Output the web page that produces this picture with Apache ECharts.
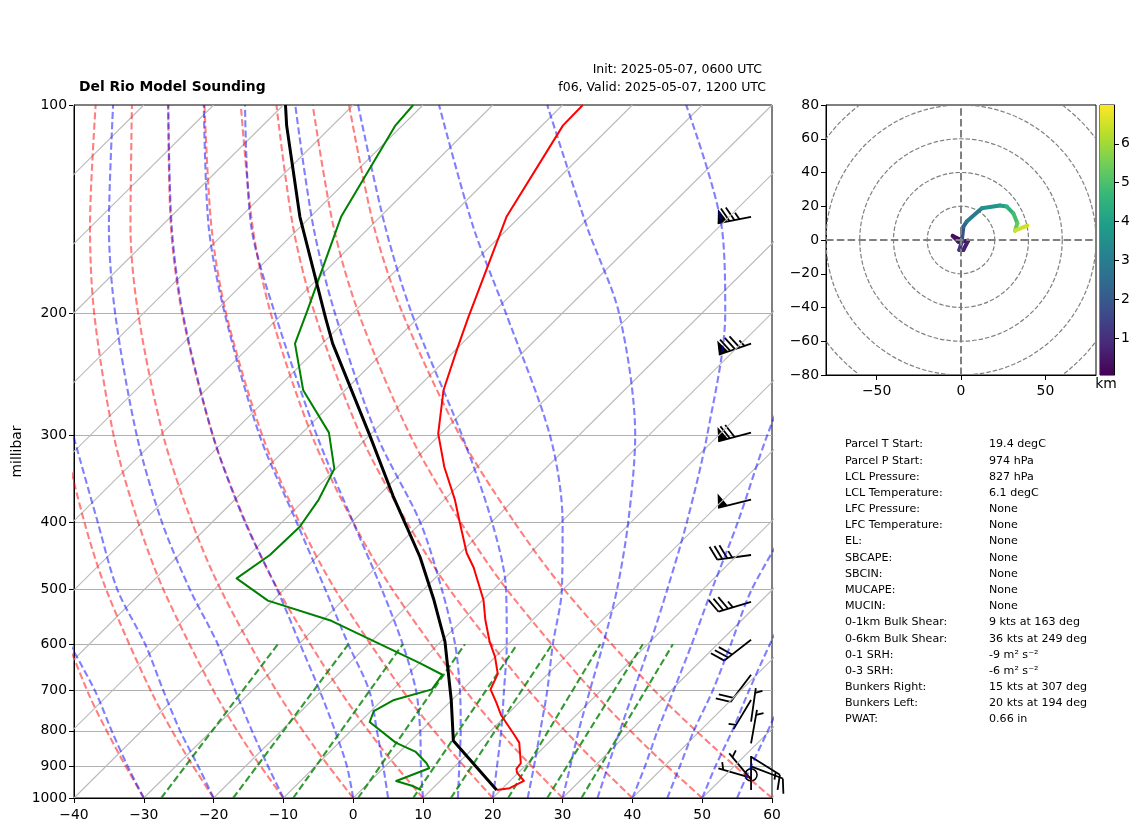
<!DOCTYPE html>
<html lang="en">
<head>
  <meta charset="UTF-8" />
  <title>Del Rio Model Sounding</title>
  <script src="https://cdn.jsdelivr.net/npm/echarts@6/dist/echarts.min.js"></script>
  <style>
    html, body { margin: 0; padding: 0; background: #fff; }
  </style>
</head>
<body>
  <div id="main" style="width:1142px; height:832px;"></div>
  <script type="text/javascript">

    // sounding profiles, pressure in hPa, temperature in degC
    const tempPressure = [974, 968, 945, 919, 908, 891, 832, 811, 759, 729, 697, 662, 625, 595, 553, 518, 465, 443, 401, 371, 333, 298, 258, 225, 203, 145, 107, 100];
    const tempValues = [19.4, 21.0, 22.0, 19.8, 19.2, 19.0, 15.8, 14.0, 9.2, 6.8, 4.0, 2.8, -0.1, -3.0, -6.8, -9.9, -16.0, -19.1, -24.4, -28.5, -34.7, -40.4, -45.9, -49.9, -52.8, -61.9, -67.0, -67.1];
    const dewPressure = [974, 961, 945, 906, 891, 857, 832, 777, 749, 722, 697, 664, 639, 555, 519, 482, 446, 406, 371, 335, 297, 258, 221, 198, 145, 107, 100];
    const dewValues = [8.6, 6.8, 3.7, 6.6, 5.5, 2.2, -1.9, -8.6, -9.6, -8.3, -4.4, -5.0, -9.9, -28.7, -40.7, -48.4, -47.0, -46.8, -48.0, -50.2, -56.2, -66.0, -73.9, -76.9, -85.6, -91.0, -91.4];
    const parcelPressure = [974, 827, 722, 595, 518, 449, 367, 300, 221, 203, 145, 107, 100];
    const parcelValues = [19.4, 6.1, -0.1, -9.4, -17.0, -25.2, -37.8, -49.9, -68.5, -73.2, -91.5, -106.6, -109.7];

    // wind barbs
    const windPressure = [145, 221, 297, 371, 446, 521, 591, 664, 722, 776, 834, 872, 900, 926, 935, 940, 974];
    const windDirection = [259, 251, 255, 256, 262, 253, 232, 217, 211, 8, 10, 122, 111, 0, 286, 320, 0];
    const windSpeed = [75, 85, 70, 50, 35, 35, 30, 20, 5, 5, 5, 15, 10, 0, 5, 5, 2];

    // axis ticks
    const pressureTicks = [100, 200, 300, 400, 500, 600, 700, 800, 900, 1000];
    const isotherms = [-140, -130, -120, -110, -100, -90, -80, -70, -60, -50, -40, -30, -20, -10, 0, 10, 20, 30, 40, 50, 60];

    // dry adiabats: temperature at each level
    const dryLevels = [1000, 850, 700, 500, 400, 300, 200, 150, 100];
    const dryAdiabats = [
      [-30, -41.0, -53.6, -73.7, -86.0, -100.8, -119.6, -131.7, -147.2],
      [-20, -31.5, -44.5, -65.5, -78.3, -93.7, -113.3, -125.9, -142.0],
      [-10, -22.0, -35.5, -57.3, -70.6, -86.6, -107.0, -120.1, -136.9],
      [0, -12.4, -26.5, -49.1, -62.9, -79.5, -100.7, -114.3, -131.7],
      [10, -2.9, -17.4, -40.9, -55.2, -72.4, -94.4, -108.5, -126.5],
      [20, 6.7, -8.4, -32.7, -47.5, -65.3, -88.1, -102.7, -121.3],
      [30, 16.2, 0.6, -24.5, -39.8, -58.2, -81.7, -96.8, -116.1],
      [40, 25.8, 9.7, -16.3, -32.1, -51.2, -75.4, -91.0, -111.0],
      [50, 35.3, 18.7, -8.1, -24.4, -44.1, -69.1, -85.2, -105.8],
      [60, 44.9, 27.7, 0.1, -16.7, -37.0, -62.8, -79.4, -100.6]
    ];

    // moist adiabats: position read on the bottom axis at each level
    const moistLevels = [1000, 900, 800, 700, 600, 500, 400, 300, 200, 150, 100];
    const moistAdiabats = [
      [-30, -32.3, -34.6, -37.0, -40.6],
      [-20, -22.2, -24.8, -27.2, -29.8, -33.8, -36.6, -40.1],
      [-10, -12.2, -14.5, -16.9, -19.4, -23.4, -27.4, -31, -34.1, -35, -34.4],
      [0, -0.9, -2.6, -4.8, -7.6, -10.9, -15.5, -20.1, -24.4, -26, -26.5],
      [5, 4.3, 3.4, 2.3, -0.7, -4, -8.1, -13.4, -18.4, -20.7, -21.4],
      [10, 9.7, 9.6, 9, 7.1, 4.1, 0, -5.2, -11.2, -14.6, -15.5],
      [15, 15.2, 15.4, 15.3, 14.6, 12.7, 9.6, 3.4, -2.6, -5.7, -8.3],
      [20, 20.6, 21.2, 21.6, 22, 21.9, 19.9, 15.6, 8.4, 4.6, 0.7],
      [25, 25.9, 26.8, 27.8, 28.6, 29.9, 30, 28.2, 21.9, 17.2, 12.3],
      [30, 31.1, 32.3, 33.9, 35.8, 37.8, 39.4, 40.4, 38.1, 33.5, 27.8],
      [35, 36.5, 38.2, 40.2, 42.5, 45, 47.8, 50.7, 53.3, 52.8, 47.7],
      [40, 41.8, 43.6, 45.9, 48.5, 51.4, 55.1, 59.3, 66.2],
      [45, 46.8, 48.8, 51.5, 54.1, 57.1, 62.6],
      [50, 51.9, 54.3, 56.7, 59.7, 63.6],
      [55, 57, 59.4, 62]
    ];

    // mixing ratio lines: position on the bottom axis at 1000 and 600 hPa
    const mixingLevels = [1000, 600];
    const mixingLines = [
      [-27.5, -10.8], [-17.2, -0.7], [-8.6, 7.1], [0.7, 16], [8.6, 23.5],
      [14, 28.5], [22.2, 35.4], [27.8, 41.5], [32.7, 45.8]
    ];

    // hodograph
    const hodoU = [0, -4.9, -1.6, 4.3, 1.4, -1, 0.4, 1.4, 3.4, 12.3, 23.1, 27.1, 31, 33.4, 32, 39.3];
    const hodoV = [0, 2.4, -1, -0.4, -5.9, -5.9, -1, 7.9, 10.9, 18.8, 20.4, 19.8, 15.8, 9.9, 5.5, 8.5];
    const hodoHeight = [0.05, 0.15, 0.3, 0.45, 0.6, 0.8, 1.2, 1.8, 2.3, 2.9, 3.6, 4.0, 4.5, 4.9, 5.3, 6.5];
    const hodoRadii = [20, 40, 60, 80, 100];
    const hodoLabelsX = [-50, 0, 50];
    const heightTicks = [1, 2, 3, 4, 5, 6];
    const viridis = ['#440154', '#482878', '#3e4989', '#31688e', '#26828e', '#1f9e89', '#35b779', '#6ece58', '#b5de2b', '#fde725'];

    // parcel table
    const statLabels = ['Parcel T Start:', 'Parcel P Start:', 'LCL Pressure:', 'LCL Temperature:', 'LFC Pressure:', 'LFC Temperature:', 'EL:', 'SBCAPE:', 'SBCIN:', 'MUCAPE:', 'MUCIN:', '0-1km Bulk Shear:', '0-6km Bulk Shear:', '0-1 SRH:', '0-3 SRH:', 'Bunkers Right:', 'Bunkers Left:', 'PWAT:'];
    const statValues = ['19.4 degC', '974 hPa', '827 hPa', '6.1 degC', 'None', 'None', 'None', 'None', 'None', 'None', 'None', '9 kts at 163 deg', '36 kts at 249 deg', '-9 m² s⁻²', '-6 m² s⁻²', '15 kts at 307 deg', '20 kts at 194 deg', '0.66 in'];

    const SKEW = 100;
    const BARB_X = 57;
    const FONT = '"DejaVu Sans"';

    const logP = (p) => Math.log10(p);
    const skew = (t, p) => t + SKEW * Math.log10(1000 / p);
    const minus = (v) => String(v).replace('-', '\u2212');

    function profile(pressures, temps) {
      return pressures.map((p, i) => [skew(temps[i], p), logP(p)]);
    }

    function guideLine(data, color, opacity, smooth) {
      return {
        type: 'line', xAxisIndex: 0, yAxisIndex: 0, data: data, symbol: 'none',
        smooth: smooth ? 0.3 : false,
        clip: true, silent: true, animation: false,
        lineStyle: { color: color, opacity: opacity, width: 2.1, type: [7, 3.3] }
      };
    }

    function profileLine(data, color, width) {
      return {
        type: 'line', xAxisIndex: 0, yAxisIndex: 0, data: data, symbol: 'none',
        clip: true, silent: true, animation: false,
        lineStyle: { color: color, width: width, join: 'round' }
      };
    }

    function renderBarb(params, api) {
      const o = api.coord([api.value(0), api.value(1)]);
      const dir = api.value(2) * Math.PI / 180;
      const raw = api.value(3);
      let speed = Math.round(raw / 5) * 5;
      const ink = { stroke: '#000', lineWidth: 1.8 };
      if (raw === 0) {
        return { type: 'circle', shape: { cx: o[0], cy: o[1], r: 6 }, style: { fill: 'none', stroke: '#000', lineWidth: 1.5 } };
      }
      const ux = Math.sin(dir), uy = -Math.cos(dir);
      const px = -uy, py = ux;
      const len = 34;
      const at = (along, out) => [o[0] + ux * along + px * out, o[1] + uy * along + py * out];
      const seg = (a, b) => ({ type: 'line', shape: { x1: a[0], y1: a[1], x2: b[0], y2: b[1] }, style: ink });
      const kids = [seg(o, at(len, 0))];
      let pos = len;
      while (speed >= 50) {
        kids.push({ type: 'polygon', shape: { points: [at(pos, 0), at(pos - 3, 14), at(pos - 10, 0)] }, style: { fill: '#000' } });
        pos -= 12;
        speed -= 50;
      }
      while (speed >= 10) {
        kids.push(seg(at(pos, 0), at(pos + 6, 14)));
        pos -= 5;
        speed -= 10;
      }
      if (speed >= 5) {
        if (pos === len) pos -= 5;
        kids.push(seg(at(pos, 0), at(pos + 3, 7)));
      }
      return { type: 'group', children: kids };
    }

    function renderCircle(params, api) {
      const c = api.coord([0, 0]);
      const e = api.coord([api.value(0), 0]);
      return {
        type: 'circle', shape: { cx: c[0], cy: c[1], r: e[0] - c[0] },
        style: { fill: 'none', stroke: '#808080', lineWidth: 1.2, lineDash: [4.5, 2] }
      };
    }

    function renderTrack(params, api) {
      const a = api.coord([api.value(0), api.value(1)]);
      const b = api.coord([api.value(2), api.value(3)]);
      const t = (api.value(4) - 0.05) / 6.95;
      return {
        type: 'line', shape: { x1: a[0], y1: a[1], x2: b[0], y2: b[1] },
        style: { stroke: echarts.color.lerp(t, viridis), lineWidth: 4, lineCap: 'round' }
      };
    }

    function renderColorbar(params, api) {
      const a = api.coord([0, api.value(0)]);
      const b = api.coord([1, api.value(1)]);
      const stops = viridis.map((c, i) => ({ offset: i / (viridis.length - 1), color: c }));
      return {
        type: 'rect', shape: { x: a[0], y: b[1], width: b[0] - a[0], height: a[1] - b[1] },
        style: { fill: new echarts.graphic.LinearGradient(0, 1, 0, 0, stops) }
      };
    }

    const series = [];
    isotherms.forEach((t) => {
      series.push({
        type: 'line', xAxisIndex: 0, yAxisIndex: 0, symbol: 'none', clip: true, silent: true, animation: false,
        data: [[skew(t, 1000), logP(1000)], [skew(t, 100), logP(100)]],
        lineStyle: { color: '#bbbbbb', width: 1.1 }
      });
    });
    dryAdiabats.forEach((row) => {
      series.push(guideLine(row.map((t, i) => [skew(t, dryLevels[i]), logP(dryLevels[i])]), '#ff0000', 0.5, true));
    });
    moistAdiabats.forEach((row) => {
      series.push(guideLine(row.map((x, i) => [x, logP(moistLevels[i])]), '#0000ff', 0.5, true));
    });
    mixingLines.forEach((row) => {
      series.push(guideLine(row.map((x, i) => [x, logP(mixingLevels[i])]), '#008000', 0.8, false));
    });
    series.push(profileLine(profile(tempPressure, tempValues), '#ff0000', 2));
    series.push(profileLine(profile(dewPressure, dewValues), '#008000', 2));
    series.push(profileLine(profile(parcelPressure, parcelValues), '#000000', 3));
    series.push({
      type: 'custom', xAxisIndex: 0, yAxisIndex: 0, renderItem: renderBarb, silent: true, animation: false, clip: false,
      data: windPressure.map((p, i) => [BARB_X, logP(p), windDirection[i], windSpeed[i]])
    });

    // hodograph
    series.push({
      type: 'custom', xAxisIndex: 1, yAxisIndex: 1, renderItem: renderCircle, silent: true, animation: false, clip: true,
      data: hodoRadii.map((r) => [r, 0])
    });
    series.push({
      type: 'custom', xAxisIndex: 1, yAxisIndex: 1, renderItem: renderTrack, silent: true, animation: false, clip: true,
      data: hodoU.slice(1).map((u, i) => [hodoU[i], hodoV[i], u, hodoV[i + 1], hodoHeight[i + 1]])
    });
    [[[-80, 0], [80, 0]], [[0, -80], [0, 80]]].forEach((d) => {
      series.push({
        type: 'line', xAxisIndex: 1, yAxisIndex: 1, data: d, symbol: 'none', silent: true, animation: false, z: 3,
        lineStyle: { color: '#808080', width: 2, type: [7.5, 3.3] }
      });
    });

    // colour bar
    series.push({
      type: 'custom', xAxisIndex: 2, yAxisIndex: 2, renderItem: renderColorbar, silent: true, animation: false,
      data: [[0.05, 7]]
    });

    const tickStyle = {
      axisLine: { onZero: false, lineStyle: { color: '#000', width: 1 } },
      axisTick: { length: 5, lineStyle: { color: '#000', width: 1 } }
    };
    const labelStyle = { color: '#000', fontFamily: FONT, fontSize: 13.9, margin: 7 };
    const yLabelStyle = { ...labelStyle, padding: [2, 0, 0, 0] };

    const graphics = [
      { type: 'text', style: { text: 'Del Rio Model Sounding', x: 79, y: 87.5, align: 'left', verticalAlign: 'middle', font: 'bold 13.9px ' + FONT, fill: '#000' } },
      { type: 'text', style: { text: 'Init: 2025-05-07, 0600 UTC', x: 762, y: 70, align: 'right', verticalAlign: 'middle', font: '12.5px ' + FONT, fill: '#000' } },
      { type: 'text', style: { text: 'f06, Valid: 2025-05-07, 1200 UTC', x: 766, y: 88, align: 'right', verticalAlign: 'middle', font: '12.5px ' + FONT, fill: '#000' } },
      { type: 'text', style: { text: 'km', x: 1106, y: 384, align: 'center', verticalAlign: 'middle', font: '13.9px ' + FONT, fill: '#000' } }
    ];
    statLabels.forEach((s, i) => {
      const y = 444.5 + i * 16.18;
      graphics.push({ type: 'text', style: { text: s, x: 845, y: y, align: 'left', verticalAlign: 'middle', font: '11.1px ' + FONT, fill: '#000' } });
      graphics.push({ type: 'text', style: { text: statValues[i], x: 989, y: y, align: 'left', verticalAlign: 'middle', font: '11.1px ' + FONT, fill: '#000' } });
    });

    const myChart = echarts.init(document.getElementById('main'), null, { renderer: 'canvas' });
    myChart.setOption({
      backgroundColor: '#fff',
      animation: false,
      tooltip: { show: false },
      grid: [
        { left: 74, top: 105, width: 698, height: 693, show: true, borderColor: '#000', borderWidth: 1, outerBoundsMode: 'none' },
        { left: 826, top: 105, width: 270, height: 270, show: true, borderColor: '#000', borderWidth: 1, outerBoundsMode: 'none' },
        { left: 1100, top: 105, width: 14, height: 270, show: true, borderColor: '#000', borderWidth: 1, outerBoundsMode: 'none' }
      ],
      xAxis: [
        {
          gridIndex: 0, type: 'value', min: -40, max: 60, interval: 10, position: 'bottom', splitLine: { show: false },
          axisLine: tickStyle.axisLine, axisTick: tickStyle.axisTick,
          axisLabel: { ...labelStyle, margin: 10, formatter: minus }
        },
        {
          gridIndex: 1, type: 'value', min: -80, max: 80, position: 'bottom', splitLine: { show: false },
          axisLine: tickStyle.axisLine,
          axisTick: { ...tickStyle.axisTick, customValues: hodoLabelsX },
          axisLabel: { ...labelStyle, margin: 9, customValues: hodoLabelsX, formatter: minus }
        },
        { gridIndex: 2, type: 'value', min: 0, max: 1, show: false, splitLine: { show: false } }
      ],
      yAxis: [
        {
          gridIndex: 0, type: 'value', min: 2, max: 3, inverse: true, position: 'left',
          name: 'millibar', nameLocation: 'middle', nameGap: 50, nameRotate: 90, nameMoveOverlap: false,
          nameTextStyle: { color: '#000', fontFamily: FONT, fontSize: 13.9 },
          axisLine: tickStyle.axisLine,
          axisTick: { ...tickStyle.axisTick, customValues: pressureTicks.map(logP) },
          axisLabel: { ...yLabelStyle, customValues: pressureTicks.map(logP), formatter: (v) => String(Math.round(Math.pow(10, v))) },
          splitLine: { show: true, showMinLine: false, showMaxLine: false, lineStyle: { color: '#b0b0b0', width: 1.1 } }
        },
        {
          gridIndex: 1, type: 'value', min: -80, max: 80, interval: 20, position: 'left', splitLine: { show: false },
          axisLine: tickStyle.axisLine, axisTick: tickStyle.axisTick,
          axisLabel: { ...yLabelStyle, formatter: minus }
        },
        {
          gridIndex: 2, type: 'value', min: 0.05, max: 7, position: 'right', splitLine: { show: false },
          axisLine: tickStyle.axisLine,
          axisTick: { ...tickStyle.axisTick, customValues: heightTicks },
          axisLabel: { ...yLabelStyle, customValues: heightTicks }
        }
      ],
      series: series,
      graphic: { elements: graphics }
    });
  </script>
</body>
</html>
